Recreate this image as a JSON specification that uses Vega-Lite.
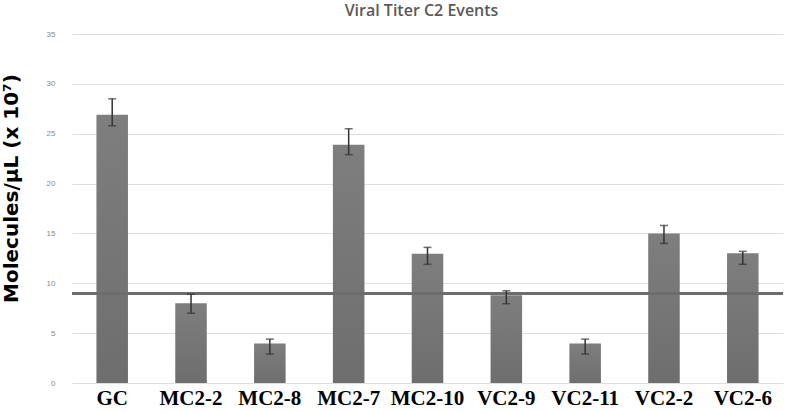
{
  "$schema": "https://vega.github.io/schema/vega-lite/v6.json",
  "autosize": "none",
  "padding": {"left": 72, "top": 34, "right": 3, "bottom": 29},
  "width": 711,
  "height": 349,
  "background": "white",
  "view": {"stroke": null},
  "title": {
    "text": "Viral Titer C2 Events",
    "font": "Open Sans",
    "fontSize": 16,
    "fontWeight": 600,
    "color": "#5a5a5a",
    "anchor": "middle",
    "offset": 11,
    "dx": -6
  },
  "data": {
    "values": [
      {"event": "GC", "titer": 26.9, "lo": 25.8, "hi": 28.5},
      {"event": "MC2-2", "titer": 8.0, "lo": 7.0, "hi": 8.9},
      {"event": "MC2-8", "titer": 3.95, "lo": 2.9, "hi": 4.4},
      {"event": "MC2-7", "titer": 23.9, "lo": 22.9, "hi": 25.5},
      {"event": "MC2-10", "titer": 12.95, "lo": 11.9, "hi": 13.6},
      {"event": "VC2-9", "titer": 8.8, "lo": 7.95, "hi": 9.25},
      {"event": "VC2-11", "titer": 3.95, "lo": 2.9, "hi": 4.4},
      {"event": "VC2-2", "titer": 15.0, "lo": 14.0, "hi": 15.8},
      {"event": "VC2-6", "titer": 13.0, "lo": 11.9, "hi": 13.2}
    ]
  },
  "encoding": {
    "x": {
      "field": "event",
      "type": "nominal",
      "sort": null,
      "scale": {"paddingInner": 0.6, "paddingOuter": 0.31},
      "axis": {
        "title": null,
        "labelAngle": 0,
        "labelFont": "Liberation Serif",
        "labelFontWeight": "bold",
        "labelFontSize": 21,
        "labelColor": "#000000",
        "labelPadding": 4,
        "ticks": false,
        "domain": false,
        "grid": false
      }
    }
  },
  "layer": [
    {
      "mark": {
        "type": "bar",
        "color": {
          "x1": 0, "y1": 0, "x2": 0, "y2": 1,
          "gradient": "linear",
          "stops": [
            {"offset": 0, "color": "#7e7e7e"},
            {"offset": 1, "color": "#6e6e6e"}
          ]
        }
      },
      "encoding": {
        "y": {
          "field": "titer",
          "type": "quantitative",
          "scale": {"domain": [0, 35]},
          "axis": {
            "values": [0, 5, 10, 15, 20, 25, 30, 35],
            "title": "Molecules/μL (x 10⁷)",
            "titleFont": "DejaVu Sans",
            "titleFontWeight": "bold",
            "titleFontSize": 20,
            "titleColor": "#000000",
            "titleAngle": -90,
            "titleX": -61,
            "titleY": 154,
            "titleAlign": "center",
            "titleBaseline": "middle",
            "labelFont": "Liberation Sans",
            "labelFontSize": 8,
            "labelColor": "#8a8a8a",
            "labelPadding": 17,
            "ticks": false,
            "domain": false,
            "grid": true,
            "gridColor": "#dedede",
            "gridWidth": 1.2
          }
        }
      }
    },
    {
      "mark": {"type": "rule", "color": "#6c6c6c", "strokeWidth": 2.5},
      "encoding": {"y": {"datum": 9, "type": "quantitative"}, "x": {}}
    },
    {
      "mark": {"type": "rule", "color": "#333333", "strokeWidth": 1.5},
      "encoding": {
        "y": {"field": "lo", "type": "quantitative"},
        "y2": {"field": "hi"}
      }
    },
    {
      "mark": {"type": "tick", "color": "#333333", "thickness": 1.5, "size": 8, "orient": "horizontal"},
      "encoding": {"y": {"field": "lo", "type": "quantitative"}}
    },
    {
      "mark": {"type": "tick", "color": "#333333", "thickness": 1.5, "size": 8, "orient": "horizontal"},
      "encoding": {"y": {"field": "hi", "type": "quantitative"}}
    }
  ]
}
